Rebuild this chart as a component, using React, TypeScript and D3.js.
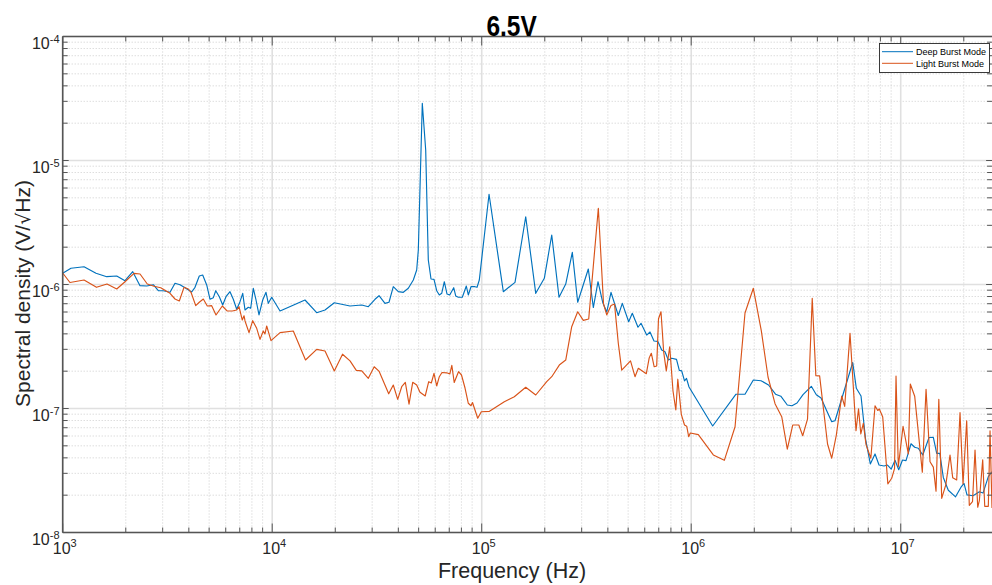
import React from 'react';
import * as d3 from 'd3';

// Series names, colours and labels
const seriesNames = ['Deep Burst Mode', 'Light Burst Mode'];
const seriesColors = ['#0072BD', '#D95319'];
const titleText = '6.5V';
const xLabelText = 'Frequency (Hz)';
const yLabelParts = ['Spectral density (V/', '\u221A', 'Hz)'];

// Decade exponents used for the major ticks
const xTickExponents = [3, 4, 5, 6, 7];
const yTickExponents = [-8, -7, -6, -5, -4];
const xDomain: [number, number] = [1e3, 2.73e7];
const yDomain: [number, number] = [1e-8, 1e-4];

// [frequency (Hz), spectral density (V/sqrt(Hz))]
const deepBurst: [number, number][] = [
  [1000, 1.231e-6], [1095, 1.351e-6], [1264, 1.391e-6], [1442, 1.231e-6], [1622, 1.156e-6],
  [1811, 1.171e-6], [1983, 1.073e-6], [2159, 1.268e-6], [2339, 9.78e-7], [2518, 9.72e-7],
  [2707, 9.96e-7], [2860, 8.91e-7], [3021, 8.91e-7], [3253, 8.65e-7], [3436, 1.023e-6],
  [3630, 9.96e-7], [3836, 9.42e-7], [4128, 8.7e-7], [4280, 9.49e-7], [4487, 1.171e-6],
  [4658, 1.193e-6], [4868, 9.91e-7], [5049, 7.6e-7], [5236, 7.83e-7], [5376, 8.91e-7],
  [5592, 7.97e-7], [5805, 6.83e-7], [6017, 7.97e-7], [6288, 8.75e-7], [6521, 7.6e-7],
  [6769, 6.31e-7], [7020, 7.27e-7], [7232, 8.49e-7], [7417, 6.23e-7], [7689, 6.55e-7],
  [7896, 6.43e-7], [8125, 9.32e-7], [8370, 7.5e-7], [8650, 5.68e-7], [9010, 7.5e-7],
  [9341, 8.65e-7], [9581, 7.05e-7], [9945, 7.89e-7], [10900, 6.11e-7], [14340, 7.5e-7],
  [16310, 5.92e-7], [17870, 6.23e-7], [19790, 7.13e-7], [23520, 6.71e-7], [26750, 6.83e-7],
  [28760, 6.62e-7], [30950, 7.6e-7], [32350, 8.12e-7], [34540, 7.05e-7], [36100, 7.19e-7],
  [37840, 9.6e-7], [40000, 8.75e-7], [42250, 8.65e-7], [44630, 9.32e-7], [47160, 1.087e-6],
  [48940, 1.309e-6], [49820, 1.897e-6], [52050, 2.893e-5], [54030, 1.215e-5], [55600, 1.576e-6],
  [57280, 1.107e-6], [59190, 1.101e-6], [60980, 8.91e-7], [62750, 8.23e-7], [64430, 8.49e-7],
  [66300, 1.053e-6], [68300, 8.38e-7], [70360, 8.23e-7], [73510, 9.42e-7], [75150, 8.08e-7],
  [77330, 7.89e-7], [80800, 7.89e-7], [84440, 9.72e-7], [86300, 8.23e-7], [88900, 9.6e-7],
  [92900, 9.6e-7], [94970, 9.49e-7], [97390, 1.087e-6], [108400, 5.34e-6], [126800, 8.75e-7],
  [144200, 1.041e-6], [162200, 3.52e-6], [181100, 8.49e-7], [199000, 1.122e-6], [215900, 2.507e-6],
  [233900, 7.89e-7], [251800, 1.009e-6], [270700, 1.818e-6], [287200, 7.19e-7], [322700, 1.334e-6],
  [341000, 6.52e-7], [359000, 1.053e-6], [378100, 7.16e-7], [395100, 6.0e-7], [414200, 8.65e-7],
  [432800, 6.83e-7], [448700, 5.62e-7], [468900, 7.05e-7], [503000, 5.01e-7], [523300, 5.86e-7],
  [557200, 4.52e-7], [575900, 4.87e-7], [613100, 3.91e-7], [635700, 4.14e-7], [664300, 3.5e-7],
  [692000, 3.48e-7], [723100, 2.96e-7], [749700, 2.87e-7], [777400, 2.46e-7], [806900, 2.54e-7],
  [850700, 2.49e-7], [877400, 2.03e-7], [900900, 2.01e-7], [928900, 1.67e-7], [949700, 1.75e-7],
  [976100, 1.49e-7], [1.266e6, 7.23e-8], [1.636e6, 1.304e-7], [1.806e6, 1.304e-7], [1.979e6, 1.697e-7],
  [2.154e6, 1.675e-7], [2.339e6, 1.547e-7], [2.526e6, 1.304e-7], [2.677e6, 1.257e-7], [2.875e6, 1.067e-7],
  [3.027e6, 1.053e-7], [3.199e6, 1.107e-7], [3.417e6, 1.292e-7], [3.744e6, 1.51e-7], [3.955e6, 1.292e-7],
  [4.166e6, 1.215e-7], [4.416e6, 9.72e-8], [4.685e6, 7.83e-8], [4.858e6, 7.97e-8], [5.901e6, 2.35e-7],
  [6.139e6, 1.455e-7], [6.464e6, 1.261e-7], [6.792e6, 5.68e-8], [7.16e6, 3.57e-8], [7.54e6, 4.3e-8],
  [7.878e6, 3.5e-8], [8.323e6, 3.44e-8], [8.65e6, 3.5e-8], [9.01e6, 3.25e-8], [9.393e6, 3.82e-8],
  [9.783e6, 3.21e-8], [1.02e7, 3.84e-8], [1.06e7, 3.8e-8], [1.12e7, 5.2e-8], [1.166e7, 4.87e-8],
  [1.213e7, 4.78e-8], [1.274e7, 4.22e-8], [1.365e7, 5.84e-8], [1.431e7, 5.85e-8], [1.485e7, 4.35e-8],
  [1.536e7, 4.35e-8], [1.597e7, 2.78e-8], [1.687e7, 2.19e-8], [1.827e7, 1.94e-8], [1.936e7, 2.31e-8],
  [2.005e7, 2.49e-8], [2.072e7, 2.01e-8], [2.214e7, 1.98e-8], [2.373e7, 2.13e-8], [2.471e7, 2.08e-8],
  [2.619e7, 2.82e-8], [2.722e7, 3.09e-8],
];

const lightBurst: [number, number][] = [
  [1000, 1.238e-6], [1083, 1.038e-6], [1264, 1.087e-6], [1450, 9.49e-7], [1627, 1.009e-6],
  [1811, 9.2e-7], [1983, 1.053e-6], [2190, 1.231e-6], [2339, 1.215e-6], [2534, 1.009e-6],
  [2728, 9.67e-7], [2937, 9.42e-7], [3253, 8.49e-7], [3436, 7.64e-7], [3602, 7.36e-7],
  [3793, 9.49e-7], [3977, 9.2e-7], [4097, 8.65e-7], [4314, 6.75e-7], [4487, 7.19e-7],
  [4690, 7.64e-7], [4899, 6.71e-7], [5142, 6.75e-7], [5392, 5.68e-7], [5779, 6.71e-7],
  [6106, 6.11e-7], [6450, 6.11e-7], [6769, 6.23e-7], [6943, 6.62e-7], [7199, 5.17e-7],
  [7336, 5.6e-7], [7417, 5.08e-7], [7750, 4.09e-7], [8072, 5.11e-7], [8433, 4.43e-7],
  [8746, 3.61e-7], [9067, 4.22e-7], [9238, 3.99e-7], [9412, 4.63e-7], [9869, 3.53e-7],
  [10900, 4.09e-7], [12610, 4.22e-7], [14420, 2.46e-7], [16310, 3.0e-7], [17870, 2.91e-7],
  [19790, 2.01e-7], [21660, 2.74e-7], [23520, 2.42e-7], [25200, 2.03e-7], [26750, 2.01e-7],
  [28760, 1.75e-7], [30680, 2.17e-7], [32410, 1.99e-7], [35980, 1.314e-7], [37840, 1.547e-7],
  [39720, 1.186e-7], [41510, 1.499e-7], [43190, 1.626e-7], [44980, 1.083e-7], [46840, 1.626e-7],
  [48940, 1.547e-7], [50750, 1.353e-7], [53740, 1.261e-7], [55850, 1.645e-7], [57470, 1.605e-7],
  [59190, 1.922e-7], [60980, 1.519e-7], [62750, 1.805e-7], [64630, 1.951e-7], [68080, 1.94e-7],
  [70420, 1.897e-7], [72000, 2.23e-7], [73920, 1.62e-7], [77490, 1.98e-7], [80080, 1.863e-7],
  [83240, 1.463e-7], [86300, 1.102e-7], [88900, 1.053e-7], [90380, 1.118e-7], [95700, 8.34e-8],
  [99560, 9.42e-8], [108900, 9.49e-8], [128200, 1.134e-7], [143100, 1.245e-7], [162200, 1.483e-7],
  [181100, 1.285e-7], [204300, 1.645e-7], [215900, 1.805e-7], [234600, 2.24e-7], [251800, 2.46e-7],
  [268900, 4.57e-7], [287200, 6.03e-7], [305500, 5.14e-7], [324100, 5.27e-7], [360300, 4.12e-6],
  [381500, 6.96e-7], [395100, 5.68e-7], [414200, 6.77e-7], [430400, 6.96e-7], [448700, 3.36e-7],
  [465900, 2.04e-7], [513200, 2.42e-7], [539200, 1.805e-7], [559200, 2.11e-7], [610500, 1.908e-7],
  [630200, 2.56e-7], [644900, 2.79e-7], [665800, 2.17e-7], [684300, 2.2e-7], [698000, 5.29e-7],
  [717400, 6.03e-7], [739000, 2.85e-7], [760400, 2.01e-7], [789500, 3.15e-7], [818600, 1.384e-7],
  [844300, 9.72e-8], [863000, 1.723e-7], [896800, 8.98e-8], [928900, 7.36e-8], [951600, 7.2e-8],
  [972600, 5.92e-8], [990100, 6.34e-8], [1.081e6, 6.15e-8], [1.275e6, 4.22e-8], [1.439e6, 3.82e-8],
  [1.619e6, 7.13e-8], [1.806e6, 5.89e-7], [1.979e6, 9.32e-7], [2.161e6, 4.23e-7], [2.326e6, 1.795e-7],
  [2.512e6, 1.093e-7], [2.704e6, 8.59e-8], [2.875e6, 4.7e-8], [3.051e6, 7.36e-8], [3.263e6, 7.36e-8],
  [3.406e6, 6.03e-8], [3.59e6, 8.2e-8], [3.781e6, 7.74e-7], [3.934e6, 1.839e-7], [4.101e6, 1.835e-7],
  [4.474e6, 5.17e-8], [4.685e6, 3.97e-8], [4.928e6, 6.11e-8], [5.228e6, 1.261e-7], [5.403e6, 1.041e-7],
  [5.728e6, 4.04e-7], [6.118e6, 6.62e-8], [6.289e6, 9.96e-8], [6.449e6, 6.23e-8], [6.629e6, 7.6e-8],
  [6.829e6, 5.11e-8], [7.2e6, 3.97e-8], [7.54e6, 1.053e-7], [7.767e6, 9.64e-8], [7.906e6, 9.91e-8],
  [8.206e6, 8.54e-8], [8.68e6, 2.47e-8], [9.057e6, 2.74e-8], [9.342e6, 3.27e-8], [9.497e6, 1.83e-7],
  [9.739e6, 3.39e-8], [1.026e7, 7.19e-8], [1.087e7, 4.31e-8], [1.111e7, 1.576e-7], [1.166e7, 1.257e-7],
  [1.268e7, 3.06e-8], [1.321e7, 1.431e-7], [1.38e7, 3.72e-8], [1.431e7, 3.37e-8], [1.474e7, 2.15e-8],
  [1.52e7, 1.186e-7], [1.569e7, 1.887e-8], [1.641e7, 2.42e-8], [1.719e7, 4.22e-8], [1.771e7, 2.76e-8],
  [1.85e7, 2.65e-8], [1.919e7, 9.25e-8], [1.983e7, 2.46e-8], [2.065e7, 7.97e-8], [2.125e7, 1.657e-8],
  [2.201e7, 1.772e-8], [2.263e7, 4.63e-8], [2.331e7, 1.597e-8], [2.373e7, 1.805e-8], [2.462e7, 3.86e-8],
  [2.518e7, 1.626e-8], [2.619e7, 1.626e-8], [2.669e7, 6.62e-8], [2.727e7, 1.576e-8],
];

const WIDTH = 992;
const HEIGHT = 585;
const PLOT = { left: 62.7, right: 992.1, top: 36.5, bottom: 532.5 };
const FONT = "'Liberation Sans', Arial, Helvetica, sans-serif";
const AXIS_COLOR = '#555555';
const TEXT_COLOR = '#262626';

function minorValues(exponents: number[], max: number): number[] {
  const out: number[] = [];
  exponents.forEach((e) => {
    for (let m = 2; m <= 9; m++) {
      const v = m * Math.pow(10, e);
      if (v <= max) out.push(v);
    }
  });
  return out;
}

export default function App() {
  const x = d3.scaleLog().domain(xDomain).range([PLOT.left, PLOT.right]);
  const y = d3.scaleLog().domain(yDomain).range([PLOT.bottom, PLOT.top]);

  const line = d3
    .line<[number, number]>()
    .x((d) => x(d[0]))
    .y((d) => y(d[1]));

  const xMajor = xTickExponents.map((e) => Math.pow(10, e));
  const yMajor = yTickExponents.map((e) => Math.pow(10, e));
  const xMinor = minorValues(xTickExponents, xDomain[1]);
  const yMinor = minorValues(yTickExponents.slice(0, -1), yDomain[1]);

  const series = [deepBurst, lightBurst];

  return (
    <svg
      width={WIDTH}
      height={HEIGHT}
      style={{ position: 'absolute', left: 0, top: 0, background: '#ffffff' }}
      fontFamily={FONT}
    >
      <defs>
        <clipPath id="plot-clip">
          <rect x={PLOT.left} y={PLOT.top} width={PLOT.right - PLOT.left} height={PLOT.bottom - PLOT.top} />
        </clipPath>
      </defs>
      <rect x={0} y={0} width={WIDTH} height={HEIGHT} fill="#ffffff" />

      {/* minor grid */}
      <g stroke="#c8c8c8" strokeWidth={0.9} strokeDasharray="1 2">
        {xMinor.map((v) => (
          <line key={`xm${v}`} x1={x(v)} x2={x(v)} y1={PLOT.top} y2={PLOT.bottom} />
        ))}
        {yMinor.map((v) => (
          <line key={`ym${v}`} x1={PLOT.left} x2={PLOT.right} y1={y(v)} y2={y(v)} />
        ))}
      </g>
      {/* major grid */}
      <g stroke="#e0e0e0" strokeWidth={1.6}>
        {xMajor.map((v) => (
          <line key={`xg${v}`} x1={x(v)} x2={x(v)} y1={PLOT.top} y2={PLOT.bottom} />
        ))}
        {yMajor.map((v) => (
          <line key={`yg${v}`} x1={PLOT.left} x2={PLOT.right} y1={y(v)} y2={y(v)} />
        ))}
      </g>

      {/* data */}
      <g clipPath="url(#plot-clip)" fill="none" strokeWidth={1.15} strokeLinejoin="round">
        {series.map((s, i) => (
          <path key={seriesNames[i]} d={line(s) || ''} stroke={seriesColors[i]} />
        ))}
      </g>

      {/* axes box and ticks */}
      <g stroke={AXIS_COLOR} strokeWidth={1}>
        {xMajor.map((v) => (
          <g key={`xt${v}`}>
            <line x1={x(v)} x2={x(v)} y1={PLOT.bottom} y2={PLOT.bottom - 9} />
            <line x1={x(v)} x2={x(v)} y1={PLOT.top} y2={PLOT.top + 9} />
          </g>
        ))}
        {xMinor.map((v) => (
          <g key={`xmt${v}`}>
            <line x1={x(v)} x2={x(v)} y1={PLOT.bottom} y2={PLOT.bottom - 5} />
            <line x1={x(v)} x2={x(v)} y1={PLOT.top} y2={PLOT.top + 5} />
          </g>
        ))}
        {yMajor.map((v) => (
          <g key={`yt${v}`}>
            <line x1={PLOT.left} x2={PLOT.left + 6} y1={y(v)} y2={y(v)} />
            <line x1={PLOT.right} x2={PLOT.right - 6} y1={y(v)} y2={y(v)} />
          </g>
        ))}
        {yMinor.map((v) => (
          <g key={`ymt${v}`}>
            <line x1={PLOT.left} x2={PLOT.left + 5} y1={y(v)} y2={y(v)} />
            <line x1={PLOT.right} x2={PLOT.right - 5} y1={y(v)} y2={y(v)} />
          </g>
        ))}
      </g>
      <g stroke={AXIS_COLOR} strokeWidth={1.6}>
        <line x1={PLOT.left} x2={PLOT.left} y1={PLOT.top} y2={PLOT.bottom} />
        <line x1={PLOT.left} x2={PLOT.right + 2} y1={PLOT.bottom} y2={PLOT.bottom} />
        <line x1={PLOT.left} x2={PLOT.right + 2} y1={PLOT.top} y2={PLOT.top} />
      </g>

      {/* tick labels */}
      <g fill={TEXT_COLOR} fontSize={16}>
        {xTickExponents.map((e) => (
          <text key={`xl${e}`} x={x(Math.pow(10, e)) + 2} y={554} textAnchor="middle">
            10
            <tspan dy={-7} fontSize={11}>
              {e}
            </tspan>
          </text>
        ))}
        {yTickExponents.map((e) => (
          <text key={`yl${e}`} x={59.5} y={y(Math.pow(10, e)) + 12.5} textAnchor="end">
            10
            <tspan dy={-6.5} fontSize={11}>
              {e}
            </tspan>
          </text>
        ))}
      </g>

      {/* axis labels and title */}
      <text x={512} y={578} textAnchor="middle" fontSize={21.5} fill={TEXT_COLOR}>
        {xLabelText}
      </text>
      <text
        transform="translate(29.5,293.5) rotate(-90)"
        textAnchor="middle"
        fontSize={21}
        fill={TEXT_COLOR}
      >
        {yLabelParts[0]}
        <tspan fontFamily="'DejaVu Sans', sans-serif" fontSize={19}>
          {yLabelParts[1]}
        </tspan>
        {yLabelParts[2]}
      </text>
      <text
        transform="translate(511.6,35.5) scale(1,1.2)"
        textAnchor="middle"
        fontSize={24.5}
        fontWeight="bold"
        fill="#000000"
      >
        {titleText}
      </text>

      {/* legend */}
      <g>
        <rect x={879.5} y={43.5} width={110} height={29} fill="#ffffff" stroke="#262626" strokeWidth={0.9} />
        {seriesNames.map((name, i) => (
          <g key={`lg${name}`}>
            <line x1={882} x2={913} y1={51.7 + i * 11.6} y2={51.7 + i * 11.6} stroke={seriesColors[i]} strokeWidth={1} />
            <text x={916} y={55 + i * 11.6} fontSize={9} fill="#000000">
              {name}
            </text>
          </g>
        ))}
      </g>
    </svg>
  );
}
